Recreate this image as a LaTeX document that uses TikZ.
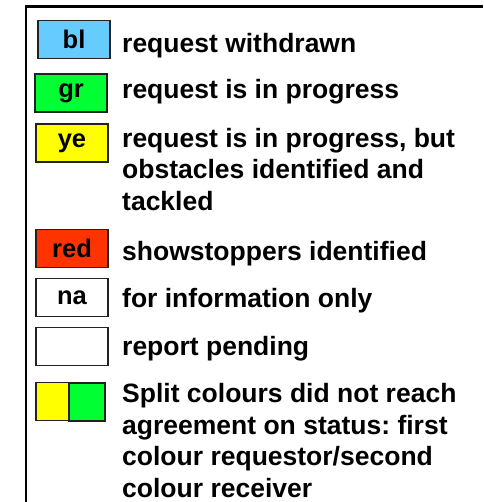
\documentclass[tikz,border=0pt]{standalone}
\usepackage{fontspec}
\setmainfont{Liberation Sans}
\usetikzlibrary{positioning}
\definecolor{blfill}{HTML}{66CCFF}
\definecolor{grfill}{HTML}{00FF33}
\definecolor{yefill}{HTML}{FFFF00}
\definecolor{redfill}{HTML}{FF3300}
\definecolor{edge}{HTML}{222222}
\frenchspacing

\begin{document}
\begin{tikzpicture}[x=1pt, y=-1pt,
    box/.style={draw=edge, line width=1.6pt, minimum width=72pt, minimum height=38pt,
      inner sep=0pt, font=\fontsize{25.5}{30}\selectfont\bfseries},
    desc/.style={anchor=base west, align=left, inner sep=0pt,
      font=\fontsize{26.5}{31.7}\selectfont\bfseries}]
      \useasboundingbox (0,0) rectangle (483,502);
      % frame
      \draw[line width=2.4pt] (26,502) -- (26,6.7) -- (483,6.7);

      \node[box, fill=blfill] (bl) at (74,39.5) {bl};
      \node[box, fill=grfill] (gr) at (71,93.3) {gr};
      \node[box, fill=yefill] (ye) at (72,143) {ye};
      \node[box, fill=redfill] (red) at (72,248.5) {red};
      \node[box, fill=white] (na) at (72,297.5) {na};
      \node[box, fill=white] (pend) at (72,346.5) {};
      \node[box, fill=yefill, minimum width=33pt] (splitye) at (52.5,401.5) {};
      \node[box, fill=grfill, minimum width=36pt] (splitgr) at (87,402) {};

      % multi-line texts sit on the baseline of their last line
      \node[desc] (blt) at (122,52.3) {request withdrawn};
      \node[desc] (grt) at (122,99) {request is in progress};
      \node[desc] (yet) at (122,210.7) {request is in progress, but\\obstacles identified and\\tackled};
      \node[desc] (redt) at (122,260) {showstoppers identified};
      \node[desc] (nat) at (122,307.3) {for information only};
      \node[desc] (pendt) at (122,355) {report pending};
      \node[desc] (splitt) at (122,497.5) {Split colours did not reach\\agreement on status: first\\colour requestor/second\\colour receiver};
    \end{tikzpicture}
\end{document}
